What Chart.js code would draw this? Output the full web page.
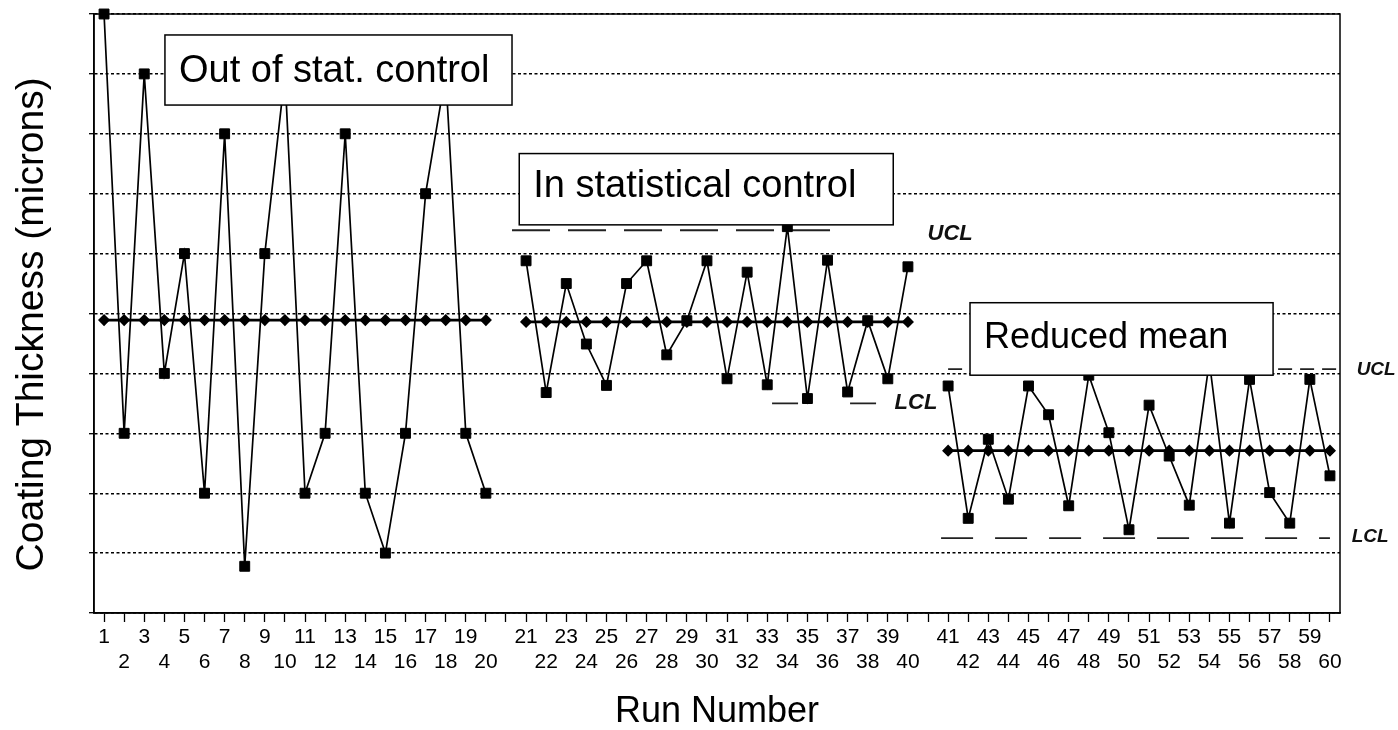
<!DOCTYPE html>
<html>
<head>
<meta charset="utf-8">
<title>Coating Thickness - control chart</title>
<script src="https://cdn.jsdelivr.net/npm/chart.js@4.4.1/dist/chart.umd.min.js"></script>
<style>
    html, body { margin: 0; padding: 0; background: #fff; }
</style>
</head>
<body>
<canvas id="grafico" width="1398" height="730"></canvas>
<script>
// espessura por corrida (unidades = linhas da grade)
const grupo1 = [10, 3, 9, 4, 6, 2, 8, 0.78, 6, 9, 2, 3, 8, 2, 1, 3, 7, 9, 3, 2]
const grupo2 = [5.88, 3.68, 5.5, 4.49, 3.8, 5.5, 5.88, 4.31, 4.88, 5.88, 3.91, 5.69, 3.81, 6.45, 3.58, 5.89, 3.69, 4.88, 3.91, 5.78]
const grupo3 = [3.79, 1.58, 2.9, 1.9, 3.79, 3.31, 1.79, 3.97, 3.01, 1.39, 3.47, 2.62, 1.8, 4.2, 1.5, 3.9, 2.01, 1.5, 3.9, 2.29]
const medias = [4.89, 4.86, 2.71]

// limites desenhados a mao: x em posicao do eixo (slot), y no valor
const ucl2 = [{x: 20.3, y: 6.39}, {x: 36.4, y: 6.39}]
const lcl2 = [{x: 33.24, y: 3.5}, {x: 38.7, y: 3.5}]
const ucl3 = [{x: 42.0, y: 4.07}, {x: 61.35, y: 4.07}]
const lcl3 = [{x: 41.65, y: 1.25}, {x: 61.0, y: 1.25}]

// eixo x: 3 grupos de 20 corridas com um slot vazio entre eles
const rotulos = []
const serie = []
const centro = [[], [], []]
const grupos = [grupo1, grupo2, grupo3]

grupos.forEach((g, gi) => {
    if (gi > 0) {
        rotulos.push('')
        serie.push(null)
        centro.forEach(c => c.push(null))
    }
    g.forEach((v, i) => {
        const n = gi * 20 + i + 1
        rotulos.push(n % 2 === 1 ? String(n) : ['', String(n)])
        serie.push(v)
        centro.forEach((c, ci) => c.push(ci === gi ? medias[gi] : null))
    })
})

const caixas = [
    {texto: 'Out of stat. control', x0: 3.03, x1: 20.3, y0: 9.65, y1: 8.48, base: 8.87, fonte: 38},
    {texto: 'In statistical control', x0: 20.66, x1: 39.27, y0: 7.67, y1: 6.48, base: 6.95, fonte: 38},
    {texto: 'Reduced mean', x0: 43.09, x1: 58.17, y0: 5.18, y1: 3.97, base: 4.42, fonte: 36}
]

const notas = [
    {texto: 'UCL', x: 42.1, y: 6.33, fonte: 22},
    {texto: 'LCL', x: 40.4, y: 3.51, fonte: 22},
    {texto: 'UCL', x: 63.3, y: 4.06, fonte: 19},
    {texto: 'LCL', x: 63.0, y: 1.27, fonte: 19}
]

const FONTE = '"Liberation Sans", Arial, Helvetica, sans-serif'

const anotacoes = {
    id: 'anotacoes',
    afterDatasetsDraw(chart) {
        const ctx = chart.ctx
        const xs = chart.scales.xl
        const ys = chart.scales.y
        const a = chart.chartArea
        ctx.save()
        ctx.strokeStyle = '#000'
        ctx.lineWidth = 1.5
        ctx.strokeRect(a.left, a.top, a.right - a.left, a.bottom - a.top)

        caixas.forEach(c => {
            const x0 = xs.getPixelForValue(c.x0)
            const x1 = xs.getPixelForValue(c.x1)
            const y0 = ys.getPixelForValue(c.y0)
            const y1 = ys.getPixelForValue(c.y1)
            ctx.fillStyle = '#fff'
            ctx.fillRect(x0, y0, x1 - x0, y1 - y0)
            ctx.lineWidth = 1.5
            ctx.strokeRect(x0, y0, x1 - x0, y1 - y0)
            ctx.fillStyle = '#000'
            ctx.font = c.fonte + 'px ' + FONTE
            ctx.textAlign = 'left'
            ctx.textBaseline = 'alphabetic'
            ctx.fillText(c.texto, x0 + 14, ys.getPixelForValue(c.base))
        })

        notas.forEach(n => {
            ctx.fillStyle = '#111'
            ctx.font = 'italic bold ' + n.fonte + 'px ' + FONTE
            ctx.textAlign = 'center'
            ctx.textBaseline = 'middle'
            ctx.fillText(n.texto, xs.getPixelForValue(n.x), ys.getPixelForValue(n.y))
        })
        ctx.restore()
    }
}

function linhaCentral(dados) {
    return {
        data: dados,
        xAxisID: 'x',
        borderColor: '#000',
        borderWidth: 2.6,
        pointStyle: 'rectRot',
        pointRadius: 5,
        pointBorderWidth: 1.5,
        pointBackgroundColor: '#000',
        pointBorderColor: '#000',
        spanGaps: false
    }
}

function limite(dados, traco) {
    return {
        data: dados,
        xAxisID: 'xl',
        borderColor: '#222',
        borderWidth: 1.8,
        borderDash: traco,
        pointRadius: 0
    }
}

Chart.defaults.font.family = FONTE
Chart.defaults.color = '#000'

new Chart(document.getElementById('grafico'), {
    type: 'line',
    data: {
        labels: rotulos,
        datasets: [
            {
                data: serie,
                xAxisID: 'x',
                borderColor: '#000',
                borderWidth: 1.7,
                pointStyle: 'rect',
                pointRadius: 7,
                pointBackgroundColor: '#000',
                pointBorderColor: '#000',
                pointBorderWidth: 1,
                spanGaps: false,
                clip: false
            },
            linhaCentral(centro[0]),
            linhaCentral(centro[1]),
            linhaCentral(centro[2]),
            limite(ucl2, [38, 18]),
            limite(lcl2, [26, 52]),
            limite(ucl3, [14, 8]),
            limite(lcl3, [32, 22])
        ]
    },
    options: {
        responsive: false,
        devicePixelRatio: 1,
        animation: false,
        layout: { padding: { top: 14, right: 58, left: 0, bottom: 0 } },
        plugins: {
            legend: { display: false },
            tooltip: { enabled: false }
        },
        scales: {
            x: {
                type: 'category',
                offset: true,
                afterFit(scale) { scale.height = 117 },
                grid: { drawOnChartArea: false, drawTicks: true, tickLength: 9, tickColor: '#000', tickWidth: 1.3 },
                border: { display: true, color: '#000', width: 1.5 },
                ticks: {
                    autoSkip: false,
                    maxRotation: 0,
                    minRotation: 0,
                    padding: 3,
                    color: '#000',
                    font: { size: 21, lineHeight: '25px' }
                },
                title: {
                    display: true,
                    text: 'Run Number',
                    color: '#000',
                    padding: 0,
                    font: { size: 36, lineHeight: 1 }
                }
            },
            xl: {
                type: 'linear',
                display: false,
                min: -0.5,
                max: 61.5
            },
            y: {
                min: 0,
                max: 10,
                afterFit(scale) { scale.width = 94 },
                ticks: { display: false, stepSize: 1 },
                grid: { color: '#000', lineWidth: 1.4, tickLength: 5, tickColor: '#000', tickWidth: 1.3, tickBorderDash: [] },
                border: { display: true, color: '#000', width: 1.5, dash: [3, 2.5] },
                title: {
                    display: true,
                    // dois espacos no fim descem o texto para o centro do original
                    text: 'Coating Thickness (microns)  ',
                    color: '#000',
                    padding: { top: 13, bottom: 0 },
                    font: { size: 39, lineHeight: 1 }
                }
            }
        }
    },
    plugins: [anotacoes]
})
</script>
</body>
</html>
